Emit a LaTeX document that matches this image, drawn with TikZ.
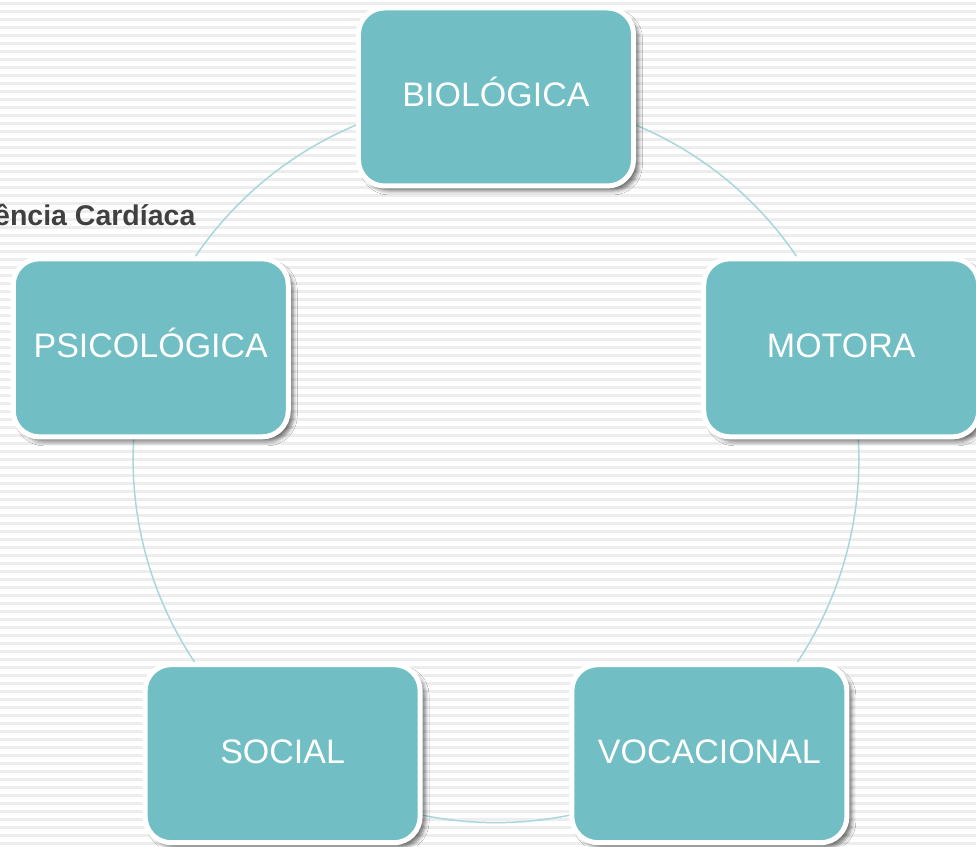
\documentclass[tikz,border=0pt]{standalone}
\usepackage{fontspec}
\setmainfont{Liberation Sans}
\usetikzlibrary{backgrounds,shadows.blur}
\definecolor{boxteal}{HTML}{71BEC4}
\definecolor{ringcol}{HTML}{A9D7DB}
\definecolor{stripecol}{HTML}{EDEDED}
\definecolor{labelgray}{HTML}{404040}
\tikzset{
  areabox/.style={rectangle, rounded corners=26pt, fill=boxteal, draw=white,
    line width=5pt, minimum width=275pt, minimum height=178pt, inner sep=0pt,
    text=white, font=\fontsize{34}{40}\selectfont, text height=26pt, text depth=6pt,
    blur shadow={shadow xshift=5pt, shadow yshift=-5pt, shadow blur radius=4pt, shadow opacity=55}},
  ring/.style={draw=ringcol, line width=1.5pt, bend right=36, looseness=0.94},
  stripe/.style={draw=stripecol, line width=2.2pt}
}
\begin{document}
\begin{tikzpicture}[x=1pt, y=1pt]
  \useasboundingbox (-496,-386) rectangle (480,460);
  \clip (-496,-386) rectangle (480,460);

  \node[areabox] (bio) at (90:363) {BIOLÓGICA};
  \node[areabox] (psi) at (162:363) {PSICOLÓGICA};
  \node[areabox] (soc) at (234:363) {SOCIAL};
  \node[areabox] (voc) at (306:363) {VOCACIONAL};
  \node[areabox] (mot) at (18:363) {MOTORA};

  \node[anchor=base west, text=labelgray, font=\bfseries\fontsize{28.5}{34}\selectfont, inner sep=0pt]
    (freq) at (-502,234) {ência Cardíaca};

  \begin{pgfonlayer}{background}
    \fill[white] (-496,-386) rectangle (480,460);
    \foreach \k in {0,...,105} {
      \draw[stripe] (-496,{456.5-8*\k}) -- (480,{456.5-8*\k});
    }
    \draw[ring] (bio.center) to (psi.center);
    \draw[ring] (psi.center) to (soc.center);
    \draw[ring] (soc.center) to (voc.center);
    \draw[ring] (voc.center) to (mot.center);
    \draw[ring] (mot.center) to (bio.center);
  \end{pgfonlayer}
\end{tikzpicture}
\end{document}
